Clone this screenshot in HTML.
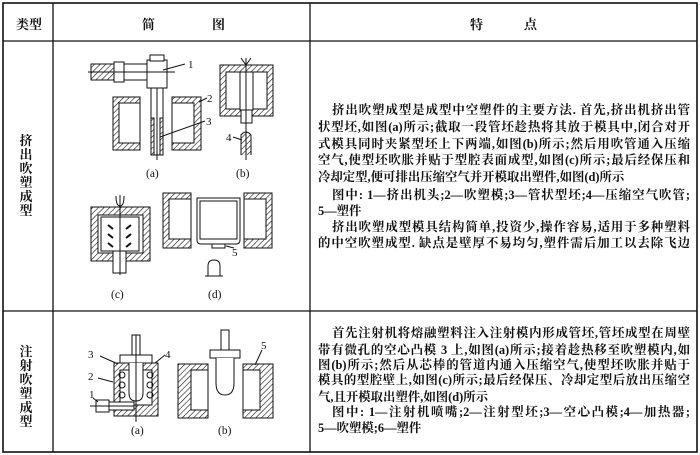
<!DOCTYPE html>
<html><head><meta charset="utf-8"><style>
body{margin:0;width:700px;height:455px;background:#fff;overflow:hidden;position:relative;font-family:"Liberation Serif","Noto Serif CJK SC",serif;color:#111}
.l{position:absolute;left:318px;width:372px;text-align:justify;text-align-last:justify;font-size:12.4px;line-height:16px;font-weight:bold;white-space:nowrap}
.n{text-align-last:left}
.v{position:absolute;left:19px;width:14px;font-size:13px;line-height:14px;font-weight:bold;text-align:center}
.h{position:absolute;top:14px;font-size:13px;font-weight:bold}
</style></head><body>
<svg width="700" height="455" style="position:absolute;left:0;top:0" stroke="#111" fill="none">
<defs><pattern id="hp" width="4" height="4" patternUnits="userSpaceOnUse" patternTransform="rotate(45)"><line x1="0" y1="0" x2="0" y2="4" stroke="#111" stroke-width="1.2"/></pattern></defs>
<rect x="3" y="3" width="694" height="449" stroke-width="1.6"/>
<line x1="3" y1="41" x2="697" y2="41" stroke-width="1.3"/>
<line x1="3" y1="311" x2="697" y2="311" stroke-width="1.3"/>
<line x1="53" y1="3" x2="53" y2="452" stroke-width="1.3"/>
<line x1="310" y1="3" x2="310" y2="452" stroke-width="1.3"/>
<g stroke-width="1">
<rect x="91" y="64" width="26" height="16" fill="url(#hp)"/>
<rect x="114" y="62" width="10" height="20" fill="#fff"/>
<rect x="124" y="64" width="26" height="16" fill="#fff"/>
<rect x="147" y="60" width="20" height="28" fill="#fff"/>
<rect x="150" y="55" width="14" height="6" fill="#fff"/>
<line x1="88" y1="72" x2="175" y2="72"/>
<rect x="151" y="88" width="12" height="67" fill="#fff"/>
<rect x="151" y="118" width="3" height="37" fill="url(#hp)"/><rect x="160" y="118" width="3" height="37" fill="url(#hp)"/>
<line x1="157" y1="88" x2="157" y2="160"/>
<line x1="163" y1="70" x2="185" y2="64"/><text x="188" y="68" font-size="11" fill="#111" stroke="none">1</text>
<path d="M113 97h27v53h-27z M119 103v40h21v-40z" fill="url(#hp)" fill-rule="evenodd"/>
<path d="M172 97h29v53h-29z M172 103v40h22v-40z" fill="url(#hp)" fill-rule="evenodd"/>
<line x1="199" y1="102" x2="207" y2="98"/><text x="207" y="102" font-size="11" fill="#111" stroke="none">2</text>
<line x1="160" y1="137" x2="205" y2="121"/><text x="206" y="125" font-size="11" fill="#111" stroke="none">3</text>
<path d="M220 65h53v51h-53z M226 72v37h41v-37z" fill="url(#hp)" fill-rule="evenodd"/>
<rect x="240" y="72" width="13" height="38" fill="#fff"/>
<rect x="241" y="110" width="11" height="13" fill="#fff"/>
<line x1="246" y1="58" x2="246" y2="160"/>
<path d="M241 58l5 7 5-7"/>
<path d="M241 155v-20q5-6 10 0v20" fill="url(#hp)"/>
<line x1="233" y1="137" x2="242" y2="140"/><text x="226" y="141" font-size="11" fill="#111" stroke="none">4</text>
<path d="M91 207h59v54h-59z M98 215v38h45v-38z" fill="url(#hp)" fill-rule="evenodd"/>
<rect x="101" y="217" width="38" height="34" fill="#fff"/>
<rect x="113" y="251" width="13" height="22" fill="#fff"/>
<line x1="120" y1="195" x2="120" y2="275"/>
<path d="M116 196q0 10 4 10q4 0 4-10"/>
<path d="M108 225l5 4M108 234l5 4M108 243l5 4M131 225l-5 4M131 234l-5 4M131 243l-5 4" stroke-width="2"/>
<path d="M163 193h28v55h-28z M169 199v40h22v-40z" fill="url(#hp)" fill-rule="evenodd"/>
<path d="M244 193h28v55h-28z M244 199v40h22v-40z" fill="url(#hp)" fill-rule="evenodd"/>
<path d="M197 198h43v42q0 4-4 4h-35q-4 0-4-4z"/>
<path d="M200 201h37v38h-37z"/>
<path d="M212 244v4h13v-4"/>
<line x1="226" y1="246" x2="234" y2="248"/><text x="232" y="256" font-size="11" fill="#111" stroke="none">5</text>
<path d="M208 276v-10q0-6 6-6q6 0 6 6v10M205 276h18"/>
<path d="M114 363h44v53h-44z" fill="url(#hp)"/>
<rect x="120" y="370" width="32" height="35" fill="#fff"/>
<circle cx="122" cy="375" r="3"/><circle cx="122" cy="385" r="3"/><circle cx="122" cy="395" r="3"/>
<circle cx="150" cy="375" r="3"/><circle cx="150" cy="385" r="3"/><circle cx="150" cy="395" r="3"/>
<rect x="120" y="355" width="32" height="8" fill="#fff"/>
<rect x="132" y="335" width="8" height="20" fill="#fff"/>
<path d="M129 363v30q0 8 7 8q7 0 7-8v-30" fill="#fff"/>
<line x1="136" y1="335" x2="136" y2="422"/>
<rect x="96" y="400" width="13" height="12" fill="#fff"/>
<rect x="109" y="402" width="25" height="8" fill="#fff"/>
<line x1="90" y1="406" x2="134" y2="406"/>
<line x1="100" y1="356" x2="118" y2="364"/><text x="88" y="358" font-size="11" fill="#111" stroke="none">3</text>
<line x1="98" y1="378" x2="113" y2="382"/><text x="88" y="380" font-size="11" fill="#111" stroke="none">2</text>
<line x1="93" y1="398" x2="98" y2="402"/><text x="89" y="398" font-size="11" fill="#111" stroke="none">1</text>
<line x1="155" y1="363" x2="165" y2="355"/><text x="165" y="358" font-size="11" fill="#111" stroke="none">4</text>
<path d="M178 364h30v54h-30z M191 370v40h17v-40z" fill="url(#hp)" fill-rule="evenodd"/>
<path d="M243 364h30v54h-30z M243 370v40h17v-40z" fill="url(#hp)" fill-rule="evenodd"/>
<rect x="221" y="330" width="8" height="20" fill="#fff"/>
<rect x="210" y="350" width="30" height="8" fill="#fff"/>
<path d="M216 358v25q0 12 9 12q9 0 9-12v-25" fill="#fff"/>
<line x1="255" y1="365" x2="262" y2="350"/><text x="261" y="349" font-size="11" fill="#111" stroke="none">5</text>
</g>
<g font-size="11.5" fill="#111" stroke="none" font-family="Liberation Serif,serif">
<text x="146" y="177">(a)</text><text x="236" y="177">(b)</text>
<text x="111" y="298">(c)</text><text x="208" y="298">(d)</text>
<text x="131" y="434">(a)</text><text x="218" y="434">(b)</text>
</g>
</svg>
<div class="h" style="left:16px">类型</div>
<div class="h" style="left:142px">简</div><div class="h" style="left:212px">图</div>
<div class="h" style="left:470px">特</div><div class="h" style="left:524px">点</div>
<div class="v" style="top:134px">挤<br>出<br>吹<br>塑<br>成<br>型</div>
<div class="v" style="top:345px">注<br>射<br>吹<br>塑<br>成<br>型</div>
<div class="l" style="top:102px;left:332px;width:358px">挤出吹塑成型是成型中空塑件的主要方法. 首先,挤出机挤出管</div>
<div class="l" style="top:119px">状型坯,如图(a)所示;截取一段管坯趁热将其放于模具中,闭合对开</div>
<div class="l" style="top:136px">式模具同时夹紧型坯上下两端,如图(b)所示;然后用吹管通入压缩</div>
<div class="l" style="top:152px">空气,使型坯吹胀并贴于型腔表面成型,如图(c)所示;最后经保压和</div>
<div class="l n" style="top:169px">冷却定型,便可排出压缩空气并开模取出塑件,如图(d)所示</div>
<div class="l" style="top:187px;left:332px;width:358px">图中: 1—挤出机头;2—吹塑模;3—管状型坯;4—压缩空气吹管;</div>
<div class="l n" style="top:203px">5—塑件</div>
<div class="l" style="top:219px;left:332px;width:358px">挤出吹塑成型模具结构简单,投资少,操作容易,适用于多种塑料</div>
<div class="l" style="top:235px">的中空吹塑成型. 缺点是壁厚不易均匀,塑件需后加工以去除飞边</div>
<div class="l" style="top:325px;left:332px;width:358px">首先注射机将熔融塑料注入注射模内形成管坯,管坯成型在周壁</div>
<div class="l" style="top:342px">带有微孔的空心凸模 3 上,如图(a)所示;接着趁热移至吹塑模内,如</div>
<div class="l" style="top:357px">图(b)所示;然后从芯棒的管道内通入压缩空气,使型坯吹胀并贴于</div>
<div class="l" style="top:372px">模具的型腔壁上,如图(c)所示;最后经保压、冷却定型后放出压缩空</div>
<div class="l n" style="top:389px">气,且开模取出塑件,如图(d)所示</div>
<div class="l" style="top:404px;left:332px;width:358px">图中: 1—注射机喷嘴;2—注射型坯;3—空心凸模;4—加热器;</div>
<div class="l n" style="top:420px">5—吹塑模;6—塑件</div>
</body></html>
